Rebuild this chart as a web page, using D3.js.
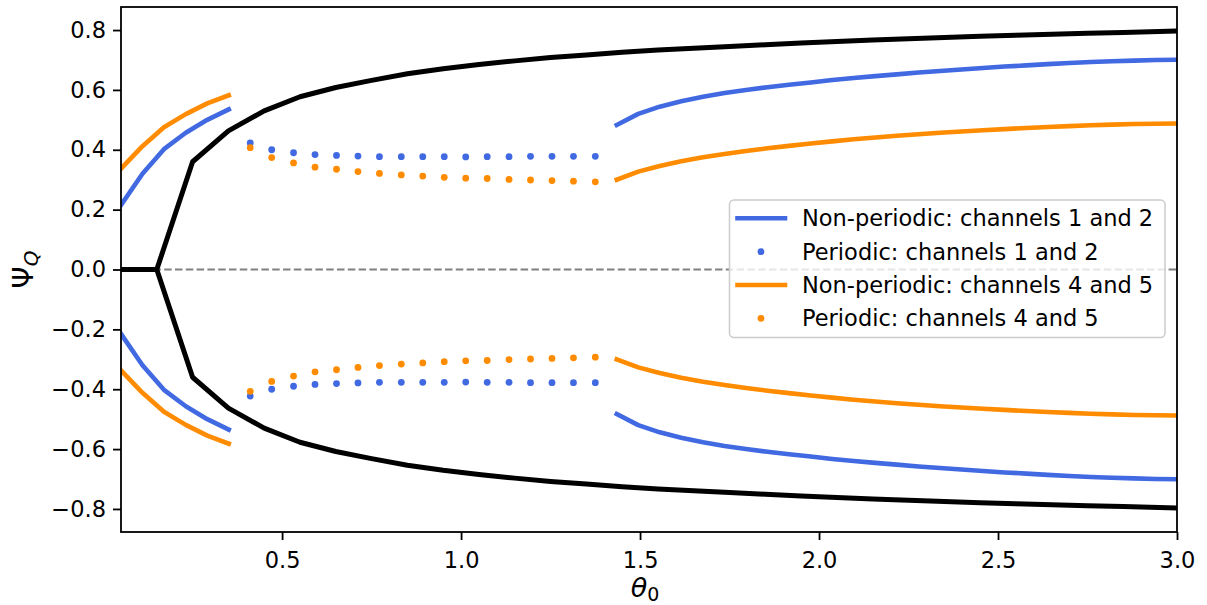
<!DOCTYPE html>
<html>
<head>
<meta charset="utf-8">
<script src="https://cdn.jsdelivr.net/npm/d3@7"></script>
<style>
  body { margin: 0; background: #fff; }
  svg { font-family: "DejaVu Sans", sans-serif; }
</style>
</head>
<body>
<svg id="chart" width="1207" height="605"></svg>
<script>
// theta_0 grid for the black curve
const blackX = [0.05, 0.15, 0.25, 0.35, 0.45, 0.55, 0.65, 0.75, 0.85, 0.95, 1.05, 1.15, 1.25, 1.35, 1.45,
    1.55, 1.65, 1.75, 1.85, 1.95, 2.05, 2.15, 2.25, 2.35, 2.45, 2.55, 2.65, 2.75, 2.85, 2.95, 3.0];
const blackY = [0, 0, 0.360, 0.463, 0.530, 0.577, 0.608, 0.632, 0.654, 0.671, 0.685, 0.697, 0.708, 0.717, 0.726,
    0.733, 0.739, 0.745, 0.751, 0.757, 0.762, 0.767, 0.771, 0.775, 0.779, 0.783, 0.786, 0.789, 0.792, 0.795, 0.797];

// non-periodic, small theta
const leftX = [0.05, 0.110, 0.170, 0.231, 0.291, 0.351];
const leftBlue = [0.215, 0.320, 0.402, 0.457, 0.500, 0.535];
const leftOrange = [0.337, 0.412, 0.475, 0.519, 0.555, 0.582];

// periodic (dots)
const dotX = [0.411, 0.471, 0.532, 0.592, 0.652, 0.712, 0.772, 0.833, 0.893, 0.953, 1.013, 1.073,
    1.134, 1.194, 1.254, 1.314, 1.375];
const dotBlue = [0.423, 0.400, 0.390, 0.384, 0.381, 0.379, 0.377, 0.377, 0.377, 0.377, 0.376, 0.377,
    0.377, 0.378, 0.378, 0.378, 0.378];
const dotOrange = [0.407, 0.374, 0.356, 0.342, 0.335, 0.327, 0.321, 0.316, 0.312, 0.308, 0.305, 0.304,
    0.301, 0.299, 0.297, 0.295, 0.293];

// non-periodic, large theta
const rightX = [1.435, 1.495, 1.555, 1.615, 1.676, 1.736, 1.796, 1.856, 1.916, 1.977, 2.037, 2.097, 2.157,
    2.217, 2.278, 2.338, 2.398, 2.458, 2.518, 2.579, 2.639, 2.699, 2.759, 2.819, 2.880, 2.940, 3.0];
const rightBlue = [0.483, 0.520, 0.544, 0.562, 0.577, 0.590, 0.600, 0.609, 0.617, 0.625, 0.633, 0.640, 0.646,
    0.652, 0.658, 0.663, 0.668, 0.673, 0.678, 0.682, 0.686, 0.690, 0.693, 0.696, 0.698, 0.700, 0.701];
const rightOrange = [0.300, 0.327, 0.346, 0.362, 0.375, 0.386, 0.396, 0.405, 0.413, 0.421, 0.428, 0.435, 0.441,
    0.447, 0.452, 0.457, 0.461, 0.465, 0.469, 0.473, 0.476, 0.479, 0.482, 0.484, 0.486, 0.487, 0.488];

const xTicks = [0.5, 1.0, 1.5, 2.0, 2.5, 3.0];
const yTicks = [-0.8, -0.6, -0.4, -0.2, 0.0, 0.2, 0.4, 0.6, 0.8];
const legendLabels = ["Non-periodic: channels 1 and 2", "Periodic: channels 1 and 2",
    "Non-periodic: channels 4 and 5", "Periodic: channels 4 and 5"];

const BLUE = "#4169e1", ORANGE = "#ff8c00";
const width = 1207, height = 605;
const margin = {top: 7, right: 30, bottom: 73, left: 121};

const svg = d3.select("#chart");

let x = d3.scaleLinear().domain([0.05, 3.0]).range([margin.left, width - margin.right]);
let y = d3.scaleLinear().domain([-0.877, 0.877]).range([height - margin.bottom, margin.top]);

svg.append("defs").append("clipPath").attr("id", "clip")
    .append("rect")
    .attr("x", margin.left).attr("y", margin.top)
    .attr("width", width - margin.left - margin.right)
    .attr("height", height - margin.top - margin.bottom);

let plot = svg.append("g").attr("clip-path", "url(#clip)");

// zero line
plot.append("line")
    .attr("x1", x(0.05)).attr("x2", x(3.0))
    .attr("y1", y(0)).attr("y2", y(0))
    .attr("stroke", "#808080")
    .attr("stroke-width", 1.8)
    .attr("stroke-dasharray", "7.5,3.3");

const line = d3.line().x(d => x(d[0])).y(d => y(d[1]));
const pairs = (xs, ys, s) => xs.map((v, i) => [v, s * ys[i]]);

function drawLine(xs, ys, color, w) {
    [1, -1].forEach(s => {
        plot.append("path")
            .attr("d", line(pairs(xs, ys, s)))
            .attr("fill", "none")
            .attr("stroke", color)
            .attr("stroke-width", w)
            .attr("stroke-linejoin", "round")
            .attr("stroke-linecap", "square");
    });
}

function drawDots(xs, ys, color) {
    [1, -1].forEach(s => {
        plot.append("g")
            .selectAll("circle")
            .data(pairs(xs, ys, s))
            .enter()
            .append("circle")
                .attr("cx", d => x(d[0]))
                .attr("cy", d => y(d[1]))
                .attr("r", 3.4)
                .attr("fill", color);
    });
}

drawLine(blackX, blackY, "#000", 5);
drawLine(leftX, leftBlue, BLUE, 4.6);
drawLine(rightX, rightBlue, BLUE, 4.6);
drawDots(dotX, dotBlue, BLUE);
drawLine(leftX, leftOrange, ORANGE, 4.6);
drawLine(rightX, rightOrange, ORANGE, 4.6);
drawDots(dotX, dotOrange, ORANGE);

// axes
const fmt = d3.format(".1f");
let xAxis = svg.append("g")
    .attr("transform", `translate(0,${height - margin.bottom})`)
    .call(d3.axisBottom(x).tickValues(xTicks).tickFormat(fmt).tickSize(8).tickPadding(7).tickSizeOuter(0));
let yAxis = svg.append("g")
    .attr("transform", `translate(${margin.left},0)`)
    .call(d3.axisLeft(y).tickValues(yTicks).tickFormat(fmt).tickSize(8).tickPadding(7).tickSizeOuter(0));

[xAxis, yAxis].forEach(a => {
    a.select(".domain").remove();
    a.selectAll(".tick line").attr("stroke", "#000").attr("stroke-width", 1.8);
    a.selectAll(".tick text").attr("fill", "#000")
        .style("font-size", "22.5px").style("font-family", "DejaVu Sans");
});
xAxis.selectAll(".tick text").attr("dy", "0.95em");

svg.append("rect")
    .attr("x", margin.left).attr("y", margin.top)
    .attr("width", width - margin.left - margin.right)
    .attr("height", height - margin.top - margin.bottom)
    .attr("fill", "none").attr("stroke", "#000").attr("stroke-width", 1.8);

// axis labels
let xl = svg.append("text")
    .attr("x", (margin.left + width - margin.right) / 2 - 4)
    .attr("y", 597)
    .attr("text-anchor", "middle")
    .style("font-size", "27px");
xl.append("tspan").style("font-style", "italic").text("θ");
xl.append("tspan").attr("dy", 4).style("font-size", "19px").text("0");

let yl = svg.append("text")
    .attr("transform", `translate(33,${(margin.top + height - margin.bottom) / 2}) rotate(-90)`)
    .attr("text-anchor", "middle")
    .style("font-size", "28px");
yl.append("tspan").text("Ψ");
yl.append("tspan").attr("dy", 5).style("font-size", "20px").style("font-style", "italic").text("Q");

// legend
let legend = svg.append("g");
legend.append("rect")
    .attr("x", 729.5).attr("y", 200)
    .attr("width", 435.5).attr("height", 137.5)
    .attr("rx", 4.5)
    .attr("fill", "#fff").attr("fill-opacity", 0.8)
    .attr("stroke", "#cccccc").attr("stroke-width", 1.5);

const rowY = [218.3, 251.7, 285, 318.3];
legendLabels.forEach((lab, i) => {
    let color = i < 2 ? BLUE : ORANGE;
    if (i % 2 === 0) {
        legend.append("line")
            .attr("x1", 737.5).attr("x2", 785)
            .attr("y1", rowY[i]).attr("y2", rowY[i])
            .attr("stroke", color).attr("stroke-width", 4.6)
            .attr("stroke-linecap", "square");
    } else {
        legend.append("circle")
            .attr("cx", 761).attr("cy", rowY[i]).attr("r", 3.4).attr("fill", color);
    }
    legend.append("text")
        .attr("x", 802)
        .attr("y", rowY[i])
        .attr("dy", "0.36em")
        .style("font-size", "22.5px")
        .text(lab);
});
</script>
</body>
</html>
